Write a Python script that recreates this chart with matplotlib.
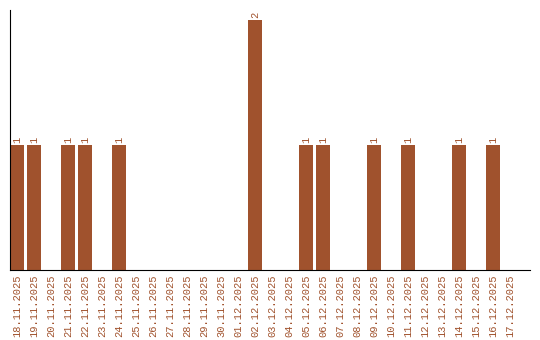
import matplotlib
matplotlib.use('Agg')
import matplotlib.pyplot as plt

# datas e quantidades
dates = ['18.11.2025', '19.11.2025', '20.11.2025', '21.11.2025', '22.11.2025',
         '23.11.2025', '24.11.2025', '25.11.2025', '26.11.2025', '27.11.2025',
         '28.11.2025', '29.11.2025', '30.11.2025', '01.12.2025', '02.12.2025',
         '03.12.2025', '04.12.2025', '05.12.2025', '06.12.2025', '07.12.2025',
         '08.12.2025', '09.12.2025', '10.12.2025', '11.12.2025', '12.12.2025',
         '13.12.2025', '14.12.2025', '15.12.2025', '16.12.2025', '17.12.2025']
counts = [1, 1, 0, 1, 1, 0, 1, 0, 0, 0,
          0, 0, 0, 0, 2, 0, 0, 1, 1, 0,
          0, 1, 0, 1, 0, 0, 1, 0, 1, 0]

color = '#A0522D'
font = 'Liberation Mono'

fig = plt.figure(figsize=(5.4, 3.4), dpi=100)
ax = fig.add_axes([10 / 540, 70 / 340, 520 / 540, 260 / 340])

slot = 17
w = 14 / slot
x = list(range(len(dates)))
ax.bar(x, counts, width=w, align='edge', color=color)

for i, c in enumerate(counts):
    if c > 0:
        ax.text(i + w / 2, c + 0.015, str(c), rotation=90, ha='center', va='bottom',
                color=color, fontsize=7.5, family=font)

ax.set_xlim(0, 520 / slot)
ax.set_ylim(0, 2.08)
ax.set_xticks([i + w / 2 for i in x])
ax.set_xticklabels(dates, rotation=90, color=color, fontsize=7.5, family=font)
ax.tick_params(axis='x', length=0, pad=3)
ax.set_yticks([])
ax.spines['top'].set_visible(False)
ax.spines['right'].set_visible(False)

fig.savefig('out.png', dpi=100)
